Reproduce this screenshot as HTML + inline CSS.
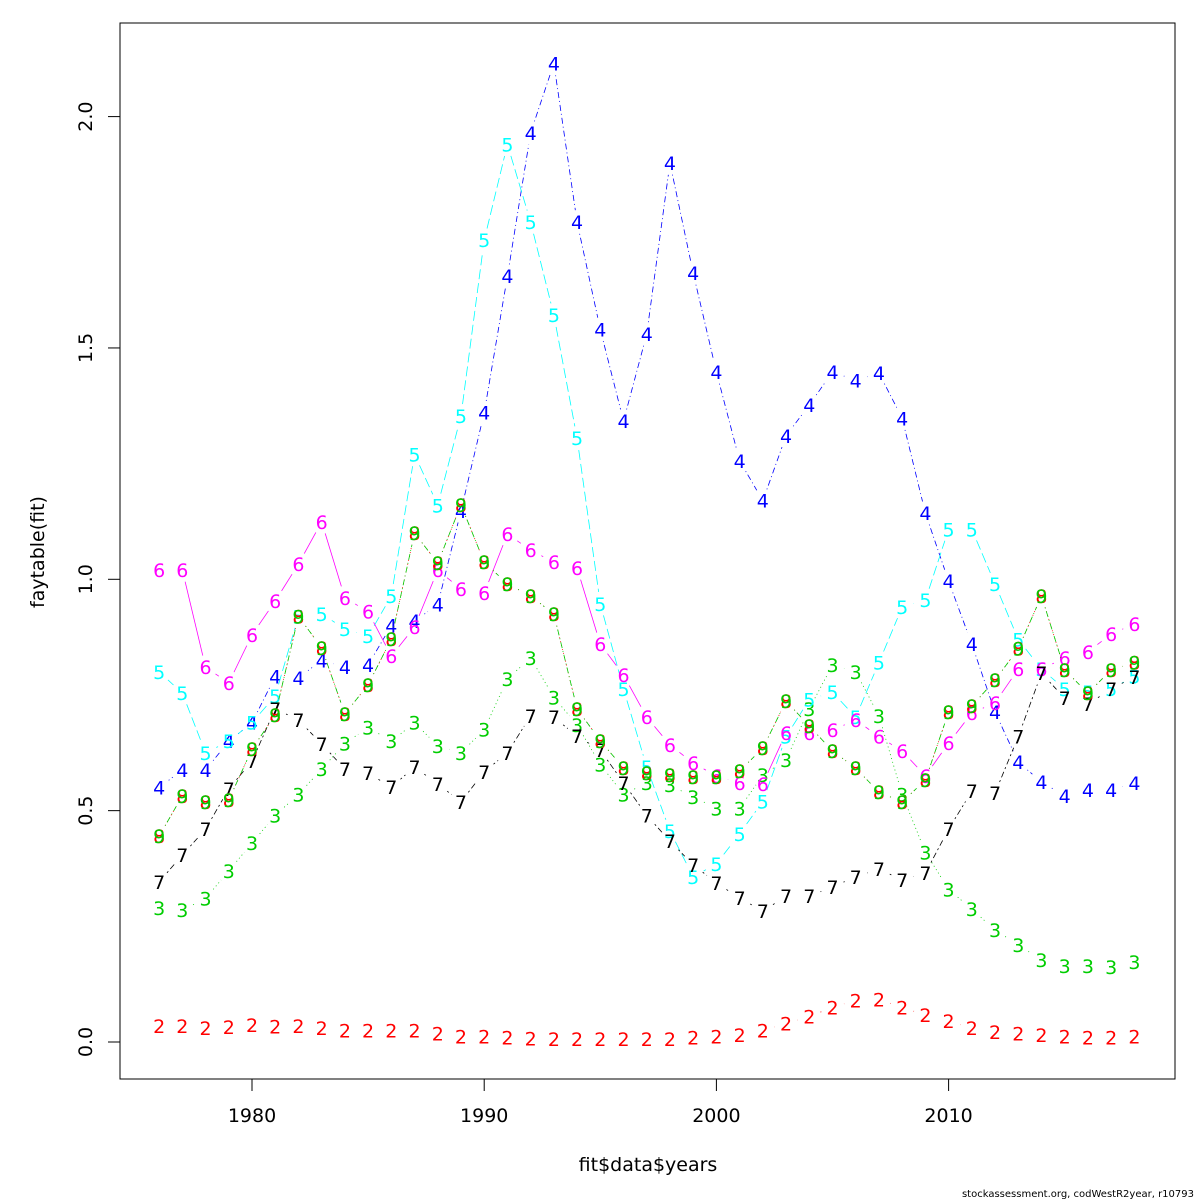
<!DOCTYPE html>
<html><head><meta charset="utf-8"><style>
html,body{margin:0;padding:0;background:#fff;}
svg{display:block;font-family:"DejaVu Sans","Liberation Sans",sans-serif;}
</style></head><body>
<svg id="chart" width="1200" height="1200" viewBox="0 0 1200 1200">
<rect x="0" y="0" width="1200" height="1200" fill="#fff"/>
<rect x="120" y="23" width="1055" height="1056" fill="none" stroke="#000" stroke-width="1"/>
<g id="axes"></g>
<g id="series"></g>
<text x="648" y="1171" font-size="19" text-anchor="middle">fit$data$years</text>
<text x="44" y="552" font-size="19" text-anchor="middle" transform="rotate(-90 44 552)">faytable(fit)</text>
<text x="1194" y="1197" font-size="10" text-anchor="end">stockassessment.org, codWestR2year, r10793</text>
</svg>
<script>
const years = [];
for (let y = 1976; y <= 2018; y++) years.push(y);
const xTicks = [1980, 1990, 2000, 2010];
const yTicks = [0, 0.5, 1, 1.5, 2];
const yTickLabels = ["0.0", "0.5", "1.0", "1.5", "2.0"];
const labels = ["2","3","4","5","6","7","8","9"];
const colors = ["#ff0000","#00cd00","#0000ff","#00ffff","#ff00ff","#000000","#ff0000","#00cd00"];
const dashes = ["6,4","1,3","1,3,6,3","10,4","","2,3,6,3","1,3","1,3,6,3"];
const age2 = [0.035,0.035,0.03,0.032,0.037,0.034,0.035,0.03,0.025,0.025,0.025,0.025,0.018,0.012,0.012,0.01,0.008,0.006,0.006,0.006,0.006,0.006,0.007,0.01,0.012,0.015,0.025,0.04,0.055,0.075,0.09,0.092,0.075,0.058,0.045,0.03,0.022,0.018,0.015,0.012,0.01,0.01,0.012];
const age3 = [0.29,0.285,0.31,0.37,0.43,0.49,0.535,0.59,0.645,0.68,0.65,0.69,0.64,0.625,0.675,0.785,0.83,0.745,0.685,0.60,0.535,0.56,0.555,0.53,0.505,0.505,0.577,0.61,0.72,0.815,0.80,0.705,0.535,0.41,0.33,0.287,0.242,0.21,0.177,0.164,0.164,0.162,0.173];
const age4 = [0.55,0.588,0.588,0.65,0.69,0.79,0.787,0.825,0.81,0.815,0.90,0.91,0.945,1.148,1.36,1.655,1.965,2.115,1.772,1.54,1.342,1.53,1.9,1.662,1.448,1.256,1.17,1.31,1.377,1.448,1.43,1.446,1.348,1.143,0.996,0.86,0.713,0.605,0.562,0.532,0.545,0.545,0.56];
const age5 = [0.80,0.754,0.625,0.65,0.69,0.748,0.92,0.925,0.893,0.877,0.964,1.27,1.16,1.353,1.733,1.94,1.772,1.571,1.305,0.947,0.763,0.594,0.456,0.357,0.385,0.45,0.52,0.66,0.74,0.756,0.702,0.82,0.94,0.955,1.108,1.108,0.99,0.87,0.806,0.763,0.756,0.763,0.79];
const age6 = [1.02,1.02,0.81,0.776,0.88,0.953,1.033,1.124,0.96,0.93,0.834,0.897,1.02,0.979,0.97,1.098,1.063,1.037,1.024,0.86,0.793,0.702,0.642,0.603,0.575,0.56,0.558,0.668,0.668,0.674,0.696,0.66,0.629,0.575,0.646,0.711,0.733,0.806,0.806,0.83,0.843,0.882,0.903];
const age7 = [0.346,0.404,0.46,0.547,0.607,0.72,0.696,0.644,0.59,0.581,0.551,0.594,0.558,0.519,0.584,0.625,0.705,0.702,0.661,0.631,0.56,0.49,0.434,0.383,0.344,0.311,0.283,0.315,0.315,0.335,0.357,0.374,0.35,0.365,0.46,0.542,0.538,0.66,0.797,0.743,0.73,0.763,0.789];
const age8 = [0.445,0.532,0.519,0.523,0.633,0.707,0.92,0.852,0.709,0.772,0.871,1.10,1.035,1.161,1.037,0.99,0.964,0.925,0.72,0.651,0.592,0.581,0.577,0.573,0.573,0.586,0.635,0.737,0.683,0.629,0.592,0.54,0.519,0.566,0.713,0.726,0.782,0.85,0.964,0.804,0.754,0.804,0.82];
const age9 = [0.445,0.532,0.519,0.523,0.633,0.707,0.92,0.852,0.709,0.772,0.871,1.10,1.035,1.161,1.037,0.99,0.964,0.925,0.72,0.651,0.592,0.581,0.577,0.573,0.573,0.586,0.635,0.737,0.683,0.629,0.592,0.54,0.519,0.566,0.713,0.726,0.782,0.85,0.964,0.804,0.754,0.804,0.82];
const seriesData = [age2,age3,age4,age5,age6,age7,age8,age9];

const NS = "http://www.w3.org/2000/svg";
const xScale = v => 252 + (v - 1980) * 23.22;
const yScale = v => 1042 - v * 462.7;
function mk(tag, attrs, parent){const e=document.createElementNS(NS,tag);for(const k in attrs)e.setAttribute(k,attrs[k]);parent.appendChild(e);return e;}

const axes = document.getElementById("axes");
const xAxisLine = mk("line",{x1:xScale(1980),x2:xScale(2010),y1:1079,y2:1079,stroke:"#000"},axes);


xTicks.forEach(t=>{
  const l=mk("line",{x1:xScale(t),x2:xScale(t),y1:1079,y2:1091,stroke:"#000"},axes);
  
  
  const tx=mk("text",{x:xScale(t),y:1122,"font-size":19,"text-anchor":"middle"},axes);
  tx.textContent=t;
  
  
});
const yAxisLine = mk("line",{x1:120,x2:120,y1:yScale(0),y2:yScale(2),stroke:"#000"},axes);


yTicks.forEach((t,i)=>{
  const y=yScale(t);
  const l=mk("line",{x1:108,x2:120,y1:y,y2:y,stroke:"#000"},axes);
  
  
  const tx=mk("text",{x:92,y:y,"font-size":19,"text-anchor":"middle",transform:`rotate(-90 92 ${y})`},axes);
  tx.textContent=yTickLabels[i];
  
  
});

const sg = document.getElementById("series");
seriesData.forEach((vals,s)=>{
  const g=mk("g",{},sg);
  
  
  for(let i=0;i<vals.length-1;i++){
    const x1=xScale(years[i]),y1=yScale(vals[i]),x2=xScale(years[i+1]),y2=yScale(vals[i+1]);
    const dx=x2-x1,dy=y2-y1,len=Math.hypot(dx,dy),gap=12;
    if(len<=2*gap)continue;
    const ux=dx/len,uy=dy/len;
    const seg=mk("line",{x1:x1+ux*gap,y1:y1+uy*gap,x2:x2-ux*gap,y2:y2-uy*gap,stroke:colors[s],"stroke-width":0.8},g);
    if(dashes[s])seg.setAttribute("stroke-dasharray",dashes[s]);
    
    
  }
  vals.forEach((v,i)=>{
    const t=mk("text",{x:xScale(years[i]),y:yScale(v)+7,"font-size":19,"text-anchor":"middle",fill:colors[s]},g);
    t.textContent=labels[s];
    
    
  });
});
</script>
</body></html>
